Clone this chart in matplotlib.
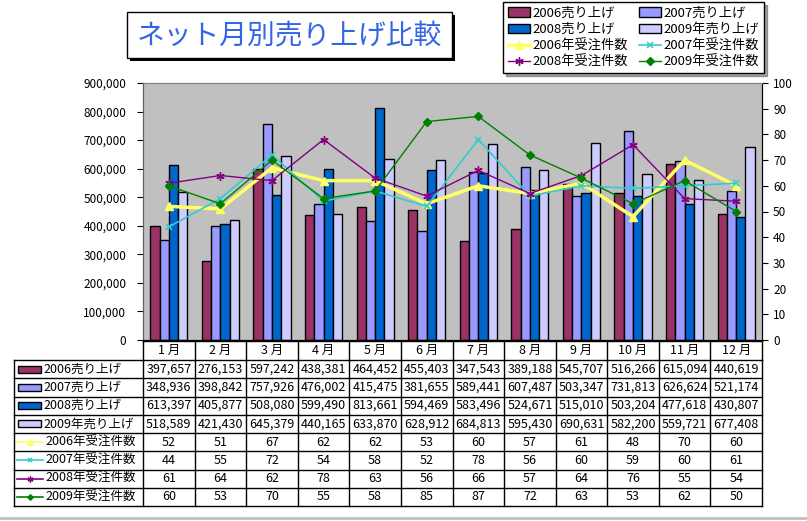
import matplotlib.pyplot as plt
import numpy as np
from matplotlib.patches import Rectangle
from matplotlib.lines import Line2D
from matplotlib.ticker import FuncFormatter

plt.rcParams['font.family'] = ['Noto Sans CJK JP', 'DejaVu Sans']

months = ['1 月', '2 月', '3 月', '4 月', '5 月', '6 月',
          '7 月', '8 月', '9 月', '10 月', '11 月', '12 月']

sales_2006 = [397657, 276153, 597242, 438381, 464452, 455403, 347543, 389188, 545707, 516266, 615094, 440619]
sales_2007 = [348936, 398842, 757926, 476002, 415475, 381655, 589441, 607487, 503347, 731813, 626624, 521174]
sales_2008 = [613397, 405877, 508080, 599490, 813661, 594469, 583496, 524671, 515010, 503204, 477618, 430807]
sales_2009 = [518589, 421430, 645379, 440165, 633870, 628912, 684813, 595430, 690631, 582200, 559721, 677408]

orders_2006 = [52, 51, 67, 62, 62, 53, 60, 57, 61, 48, 70, 60]
orders_2007 = [44, 55, 72, 54, 58, 52, 78, 56, 60, 59, 60, 61]
orders_2008 = [61, 64, 62, 78, 63, 56, 66, 57, 64, 76, 55, 54]
orders_2009 = [60, 53, 70, 55, 58, 85, 87, 72, 63, 53, 62, 50]

bar_names = ['2006売り上げ', '2007売り上げ', '2008売り上げ', '2009年売り上げ']
line_names = ['2006年受注件数', '2007年受注件数', '2008年受注件数', '2009年受注件数']
sales = [sales_2006, sales_2007, sales_2008, sales_2009]
orders = [orders_2006, orders_2007, orders_2008, orders_2009]

bar_colors = ['#993366', '#9999ff', '#0066cc', '#ccccff']
line_styles = [
    dict(color='#ffff66', lw=2.5, marker='^', ms=6),
    dict(color='#33cccc', lw=1.2, marker='x', ms=5, mew=1.2),
    dict(color='#800080', lw=1.0, marker=(6, 2, 0), ms=6, mew=1),
    dict(color='#008000', lw=1.0, marker='D', ms=4),
]

W, H = 807, 521
fig = plt.figure(figsize=(W / 100, H / 100), dpi=100)

# plot area in pixels
L, R, T, B = 143, 762, 83, 340
ax = fig.add_axes([L / W, 1 - B / H, (R - L) / W, (B - T) / H])
ax.set_facecolor('#c0c0c0')

x = np.arange(len(months))
w = 0.18
for k in range(4):
    ax.bar(x + (k - 1.5) * w, sales[k], w, color=bar_colors[k],
           edgecolor='black', lw=1, label=bar_names[k], zorder=2)
ax.set_xlim(-0.5, 11.5)
ax.set_ylim(0, 900000)
ax.set_yticks(range(0, 900001, 100000))
ax.yaxis.set_major_formatter(FuncFormatter(lambda v, p: f'{int(v):,}'))
ax.set_xticks([])
ax.tick_params(axis='y', labelsize=8.5, length=4, direction='out', pad=8)

ax2 = ax.twinx()
line_handles = []
for k in range(4):
    h, = ax2.plot(x, orders[k], label=line_names[k], **line_styles[k])
    line_handles.append(h)
ax2.set_ylim(0, 100)
ax2.set_yticks(range(0, 101, 10))
ax2.tick_params(axis='y', labelsize=8.5, length=4, direction='out', pad=4)

for a in (ax, ax2):
    a.spines['top'].set_color('#808080')
    a.spines['left'].set_color('#606060')
    a.spines['right'].set_color('black')
    a.spines['bottom'].set_color('black')

# title box
fig.patches.append(Rectangle((130 / W, 1 - 61 / H), (452 - 127) / W, 46 / H,
                             transform=fig.transFigure, facecolor='black', edgecolor='none'))
fig.patches.append(Rectangle((127 / W, 1 - 58 / H), (452 - 127) / W, 46 / H,
                             transform=fig.transFigure, facecolor='white', edgecolor='black', lw=1))
fig.text(289 / W, 1 - 36 / H, 'ネット月別売り上げ比較', ha='center', va='center',
         fontsize=20, color='#3366e6', fontweight='normal')

# legend
bh, bl = ax.get_legend_handles_labels()
order_h = [bh[0], bh[2], line_handles[0], line_handles[2],
           bh[1], bh[3], line_handles[1], line_handles[3]]
order_l = [bar_names[0], bar_names[2], line_names[0], line_names[2],
           bar_names[1], bar_names[3], line_names[1], line_names[3]]
leg = fig.legend(order_h, order_l, ncol=2, loc='upper left',
                 bbox_to_anchor=(503 / W, 1 - 2 / H), fontsize=9.5,
                 frameon=True, fancybox=False, shadow=True, edgecolor='black',
                 framealpha=1, borderpad=0.35, labelspacing=0.25,
                 handlelength=1.7, handletextpad=0.2, columnspacing=0.8,
                 borderaxespad=0)
leg.get_frame().set_linewidth(1)

# data table
tab = fig.add_axes([0, 0, 1, 1])
tab.set_xlim(0, W)
tab.set_ylim(H, 0)
tab.axis('off')

col_w = (R - L) / 12
cols = [L + i * col_w for i in range(13)]
hdr_top, row_top, row_h = 341, 360, 18.25
label_left = 14

# header row
tab.plot([L, R], [hdr_top, hdr_top], color='black', lw=1)
for cx in cols:
    tab.plot([cx, cx], [hdr_top, row_top], color='black', lw=1)
for i, m in enumerate(months):
    tab.text(cols[i] + col_w / 2, (hdr_top + row_top) / 2, m, ha='center', va='center', fontsize=9)

rows_vals = [[f'{v:,}' for v in s] for s in sales] + [[str(v) for v in o] for o in orders]
bottom = row_top + row_h * 8
for r in range(9):
    yy = row_top + r * row_h
    tab.plot([label_left, R], [yy, yy], color='black', lw=1)
for cx in [label_left] + cols:
    tab.plot([cx, cx], [row_top, bottom], color='black', lw=1)

for r in range(8):
    yc = row_top + r * row_h + row_h / 2
    for i, v in enumerate(rows_vals[r]):
        tab.text(cols[i] + col_w / 2, yc, v, ha='center', va='center', fontsize=9)
    if r < 4:
        tab.add_patch(Rectangle((18, yc - 3.5), 23, 7, facecolor=bar_colors[r],
                                edgecolor='black', lw=1))
        tab.text(43, yc, bar_names[r], ha='left', va='center', fontsize=9)
    else:
        st = dict(line_styles[r - 4])
        mk = dict(marker=st.pop('marker'), ms=st.pop('ms') * 0.7, mew=st.pop('mew', 1))
        tab.add_line(Line2D([17, 43], [yc, yc], color=st['color'], lw=1.2))
        tab.add_line(Line2D([30], [yc], color=st['color'], lw=0, **mk))
        tab.text(45, yc, line_names[r - 4], ha='left', va='center', fontsize=9)

tab.plot([0, W], [518, 518], color='#c0c0c0', lw=2)

plt.savefig('out.png', dpi=100)
